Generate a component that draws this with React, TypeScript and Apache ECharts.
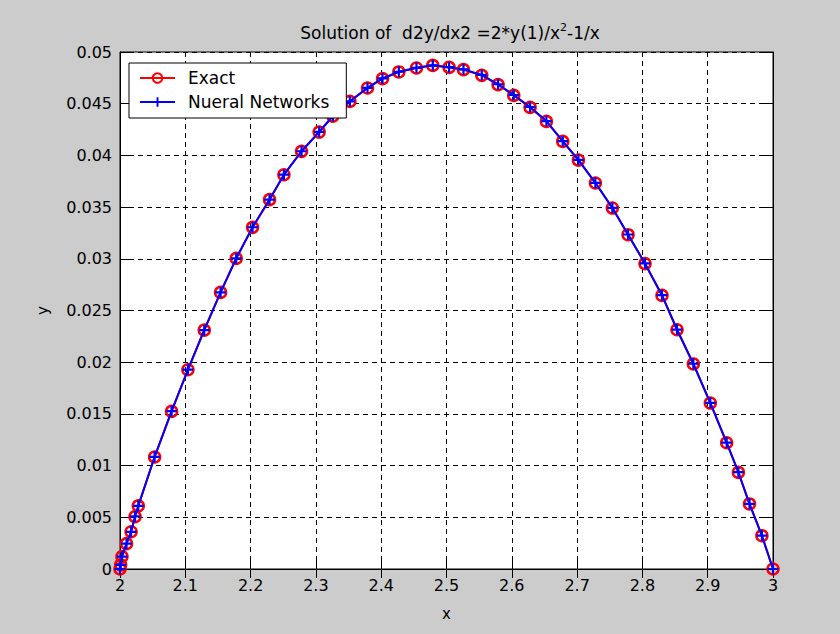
import React, { useEffect, useRef } from "react";
import * as echarts from "echarts";

const xValues = [2.000, 2.001, 2.003, 2.010, 2.017, 2.023, 2.028, 2.053, 2.079, 2.104, 2.129, 2.154, 2.178, 2.203, 2.229, 2.251, 2.278, 2.305, 2.326, 2.352, 2.379, 2.402, 2.427, 2.454, 2.479, 2.504, 2.526, 2.554, 2.579, 2.603, 2.628, 2.653, 2.678, 2.702, 2.728, 2.754, 2.778, 2.804, 2.830, 2.853, 2.878, 2.904, 2.929, 2.947, 2.964, 2.983, 3.000];
const exactY = [0, 0.0004, 0.0012, 0.00245, 0.0036, 0.00506, 0.0061, 0.01083, 0.01524, 0.01927, 0.0231, 0.02675, 0.03004, 0.03304, 0.03572, 0.03813, 0.04039, 0.04226, 0.0438, 0.04522, 0.04652, 0.04742, 0.04807, 0.04845, 0.0487, 0.04851, 0.04829, 0.04774, 0.04684, 0.0458, 0.04464, 0.04329, 0.04135, 0.03954, 0.03733, 0.03491, 0.03233, 0.02953, 0.02646, 0.02314, 0.01983, 0.01605, 0.01221, 0.00934, 0.00629, 0.00322, 0];
const nnY = [0, 0.0004, 0.0012, 0.00245, 0.0036, 0.00508, 0.0061, 0.01085, 0.01526, 0.01928, 0.0231, 0.02676, 0.03005, 0.03305, 0.03573, 0.03814, 0.0404, 0.04227, 0.04381, 0.04523, 0.04653, 0.04744, 0.04809, 0.04847, 0.04871, 0.04853, 0.04832, 0.04778, 0.04688, 0.04584, 0.04468, 0.04332, 0.04138, 0.03957, 0.03735, 0.03493, 0.03235, 0.02955, 0.02648, 0.02316, 0.01985, 0.01607, 0.01223, 0.00936, 0.0063, 0.00323, 0];
const xTicks = ["2", "2.1", "2.2", "2.3", "2.4", "2.5", "2.6", "2.7", "2.8", "2.9", "3"];
const yTicks = ["0", "0.005", "0.01", "0.015", "0.02", "0.025", "0.03", "0.035", "0.04", "0.045", "0.05"];
const seriesNames = ["Exact", "Nueral Networks"];

const FONT = "DejaVu Sans";

export default function App() {
  const ref = useRef<HTMLDivElement>(null);
  useEffect(() => {
    document.body.style.margin = "0";
    const chart = echarts.init(ref.current!, null, { renderer: "svg" });
    const tickLen = 9;
    const labelByValue = (arr: string[]) => (v: number) => {
      const s = String(Number(v.toFixed(4)));
      return arr.includes(s) ? s : "";
    };
    const commonAxisLine = { show: true, lineStyle: { color: "#000", width: 1 } };
    chart.setOption({
      animation: false,
      backgroundColor: "#cccccc",
      graphic: [
        {
          type: "text",
          x: 450,
          y: 33,
          style: {
            text: "{a|Solution of  d2y/dx2 =2*y(1)/x}{b|2}{a|-1/x}",
            textAlign: "center",
            textVerticalAlign: "middle",
            align: "center",
            verticalAlign: "middle",
            rich: {
              a: { fontFamily: FONT, fontSize: 17, fill: "#000", color: "#000", lineHeight: 22 },
              b: { fontFamily: FONT, fontSize: 11, fill: "#000", color: "#000", lineHeight: 22, verticalAlign: "top" },
            },
          },
        },
      ],
      grid: {
        left: 120,
        right: 67,
        top: 52,
        bottom: 65,
        show: true,
        backgroundColor: "#ffffff",
        borderColor: "#000",
        borderWidth: 1,
      },
      legend: {
        orient: "vertical",
        left: 129,
        top: 63,
        backgroundColor: "#ffffff",
        borderColor: "#000",
        borderWidth: 1,
        borderRadius: 0,
        padding: [5, 17, 6, 10],
        itemWidth: 35,
        itemHeight: 12,
        itemGap: 4,
        data: seriesNames,
        textStyle: { fontFamily: FONT, fontSize: 17, color: "#000", lineHeight: 20, padding: [0, 0, 0, 8] },
      },
      xAxis: [
        {
          type: "value",
          min: 2,
          max: 3,
          interval: 0.1,
          name: "x",
          nameLocation: "middle",
          nameGap: 37,
          nameTextStyle: { fontFamily: FONT, fontSize: 15, color: "#000" },
          axisLine: commonAxisLine,
          axisTick: { show: true, inside: true, length: tickLen, lineStyle: { color: "#000" } },
          axisLabel: { fontFamily: FONT, fontSize: 16, color: "#000", margin: 8, formatter: labelByValue(xTicks) },
          splitLine: { show: true, lineStyle: { color: "#000", width: 1, type: [5, 4] } },
        },
        {
          type: "value",
          position: "top",
          min: 2,
          max: 3,
          interval: 0.1,
          axisLine: commonAxisLine,
          axisTick: { show: true, inside: true, length: tickLen, lineStyle: { color: "#000" } },
          axisLabel: { show: false },
          splitLine: { show: false },
        },
      ],
      yAxis: [
        {
          type: "value",
          min: 0,
          max: 0.05,
          interval: 0.005,
          name: "y",
          nameLocation: "middle",
          nameGap: 70,
          nameRotate: 90,
          nameTextStyle: { fontFamily: FONT, fontSize: 15, color: "#000" },
          axisLine: commonAxisLine,
          axisTick: { show: true, inside: true, length: tickLen, lineStyle: { color: "#000" } },
          axisLabel: { fontFamily: FONT, fontSize: 16, color: "#000", margin: 8, formatter: labelByValue(yTicks) },
          splitLine: { show: true, lineStyle: { color: "#000", width: 1, type: [5, 4] } },
        },
        {
          type: "value",
          position: "right",
          min: 0,
          max: 0.05,
          interval: 0.005,
          axisLine: commonAxisLine,
          axisTick: { show: true, inside: true, length: tickLen, lineStyle: { color: "#000" } },
          axisLabel: { show: false },
          splitLine: { show: false },
        },
      ],
      series: [
        {
          name: seriesNames[0],
          type: "line",
          xAxisIndex: 0,
          yAxisIndex: 0,
          data: xValues.map((x, i) => [x, exactY[i]]),
          color: "#ff0000",
          symbol: "circle",
          symbolSize: 11,
          showAllSymbol: true,
          lineStyle: { color: "#ff0000", width: 2 },
          itemStyle: { color: "rgba(255,255,255,0)", borderColor: "#ff0000", borderWidth: 2.5 },
          z: 2,
        },
        {
          name: seriesNames[1],
          type: "line",
          xAxisIndex: 0,
          yAxisIndex: 0,
          data: xValues.map((x, i) => [x, nnY[i]]),
          color: "#0000ff",
          symbol: "path://M4,0 H6 V4 H10 V6 H6 V10 H4 V6 H0 V4 H4 Z",
          symbolSize: 11,
          showAllSymbol: true,
          lineStyle: { color: "#0000ff", width: 2 },
          itemStyle: { color: "#0000ff" },
          z: 3,
        },
      ],
    });
    return () => chart.dispose();
  }, []);
  return <div ref={ref} style={{ width: 840, height: 634 }} />;
}
